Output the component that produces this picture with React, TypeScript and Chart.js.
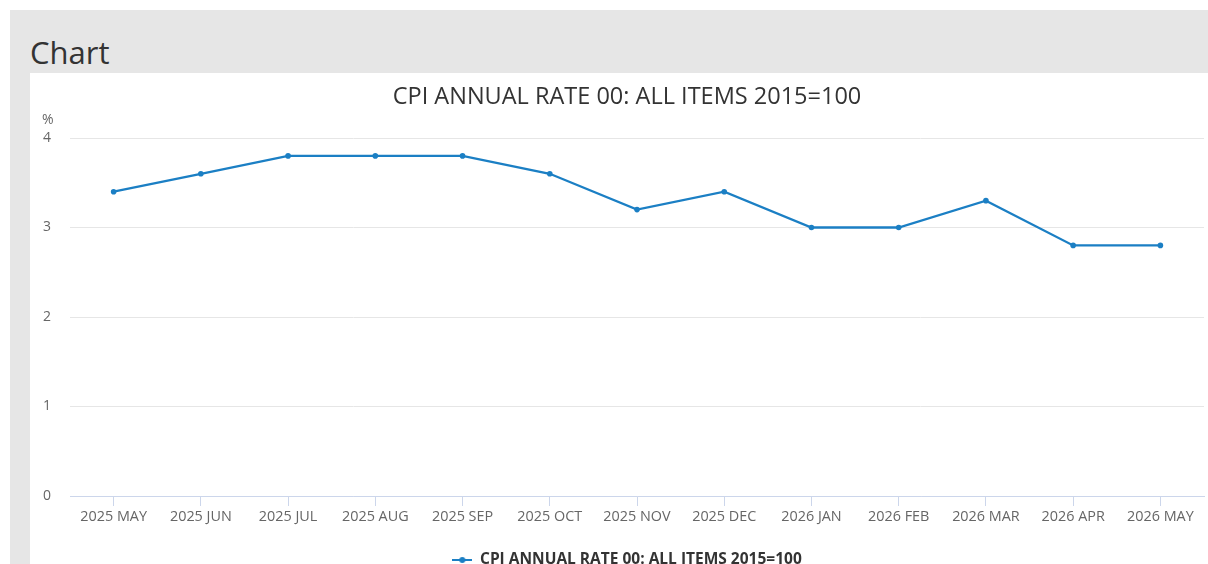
import React, { useEffect, useRef } from "react";
import { Chart, registerables } from "chart.js";

Chart.register(...registerables);

const categories = [
  "2025 MAY", "2025 JUN", "2025 JUL", "2025 AUG", "2025 SEP", "2025 OCT", "2025 NOV",
  "2025 DEC", "2026 JAN", "2026 FEB", "2026 MAR", "2026 APR", "2026 MAY",
];
const cpiValues = [3.4, 3.6, 3.8, 3.8, 3.8, 3.6, 3.2, 3.4, 3.0, 3.0, 3.3, 2.8, 2.8];
const seriesName = "CPI ANNUAL RATE 00: ALL ITEMS 2015=100";
const yTicks = [0, 1, 2, 3, 4];
const unitLabel = "%";

const FONT = "'Open Sans', 'Noto Sans', sans-serif";
const BLUE = "#1b7fc4";

function makeLegendSymbol(): HTMLCanvasElement {
  const c = document.createElement("canvas");
  c.width = 20;
  c.height = 8;
  const ctx = c.getContext("2d")!;
  ctx.strokeStyle = BLUE;
  ctx.lineWidth = 2;
  ctx.beginPath();
  ctx.moveTo(0, 4);
  ctx.lineTo(20, 4);
  ctx.stroke();
  ctx.fillStyle = BLUE;
  ctx.beginPath();
  ctx.arc(10, 4, 3, 0, Math.PI * 2);
  ctx.fill();
  return c;
}

const unitPlugin = {
  id: "unitLabel",
  afterDraw(chart: any) {
    const ctx = chart.ctx;
    ctx.save();
    ctx.font = `14px ${FONT}`;
    ctx.fillStyle = "#666666";
    ctx.textAlign = "left";
    ctx.textBaseline = "middle";
    ctx.fillText(unitLabel, 12, 47);
    ctx.restore();
  },
};

export default function App() {
  const ref = useRef<HTMLCanvasElement>(null);

  useEffect(() => {
    if (!ref.current) return;
    const symbol = makeLegendSymbol();
    const chart = new Chart(ref.current, {
      type: "line",
      data: {
        labels: categories,
        datasets: [
          {
            label: seriesName,
            data: cpiValues,
            borderColor: BLUE,
            backgroundColor: BLUE,
            borderWidth: 2.3,
            pointRadius: 2.8,
            pointHoverRadius: 3,
            pointBackgroundColor: BLUE,
            pointBorderWidth: 0,
            pointStyle: "circle",
            tension: 0,
            yAxisID: "y",
          },
        ],
      },
      options: {
        animation: false,
        responsive: false,
        maintainAspectRatio: false,
        layout: { padding: { left: 0, right: 0, top: 0, bottom: 15.25 } },
        plugins: {
          title: {
            display: true,
            text: seriesName,
            color: "#333333",
            font: { family: FONT, size: 23.5, weight: "normal", lineHeight: 1.2 },
            padding: { top: 10, bottom: 26.8 },
          },
          legend: {
            display: true,
            position: "bottom",
            labels: {
              color: "#333333",
              font: { family: FONT, size: 15.5, weight: "bold" },
              usePointStyle: true,
              pointStyleWidth: 20,
              padding: 10,
              generateLabels: () => [
                {
                  text: seriesName,
                  pointStyle: symbol,
                  fillStyle: BLUE,
                  strokeStyle: BLUE,
                  lineWidth: 0,
                  datasetIndex: 0,
                  hidden: false,
                  fontColor: "#333333",
                } as any,
              ],
            },
          },
          tooltip: { enabled: false },
        },
        scales: {
          x: {
            type: "category",
            offset: true,
            grid: {
              display: true,
              drawOnChartArea: false,
              drawTicks: true,
              tickLength: 10,
              color: "#ccd6eb",
              offset: false,
            },
            border: { display: true, color: "#ccd6eb", width: 1 },
            ticks: {
              color: "#666666",
              font: { family: FONT, size: 14.4 },
              padding: 2,
              maxRotation: 0,
              autoSkip: false,
            },
            afterFit: (scale: any) => {
              scale.height = 46.25;
            },
          },
          y: {
            min: 0,
            max: 4,
            afterBuildTicks: (scale: any) => {
              scale.ticks = yTicks.map((v) => ({ value: v }));
            },
            grid: {
              color: "#e6e6e6",
              drawTicks: false,
            },
            border: { display: false },
            ticks: {
              color: "#666666",
              font: { family: FONT, size: 14 },
              padding: 19,
            },
            afterFit: (scale: any) => {
              scale.width = 40;
            },
          },
          yRightSpacer: {
            type: "linear",
            position: "right",
            display: true,
            grid: { display: false, drawOnChartArea: false },
            border: { display: false },
            ticks: { display: false },
            afterFit: (scale: any) => {
              scale.width = 20;
            },
          },
        },
      },
      plugins: [unitPlugin],
    });
    return () => chart.destroy();
  }, []);

  return (
    <div style={{ position: "fixed", inset: 0, overflow: "hidden", background: "#ffffff" }}>
      <div
        style={{
          position: "absolute",
          left: 10,
          top: 10,
          width: 1240,
          height: 640,
          background: "#e6e6e6",
        }}
      >
        <div
          style={{
            position: "absolute",
            left: 20,
            top: 20,
            fontFamily: FONT,
            fontSize: 31,
            color: "#333333",
            lineHeight: "44px",
          }}
        >
          Chart
        </div>
        <div
          style={{
            position: "absolute",
            left: 20,
            top: 63,
            width: 1220,
            height: 600,
            background: "#ffffff",
          }}
        >
          <canvas ref={ref} width={1194} height={520} style={{ display: "block", width: 1194, height: 520 }} />
        </div>
      </div>
    </div>
  );
}
